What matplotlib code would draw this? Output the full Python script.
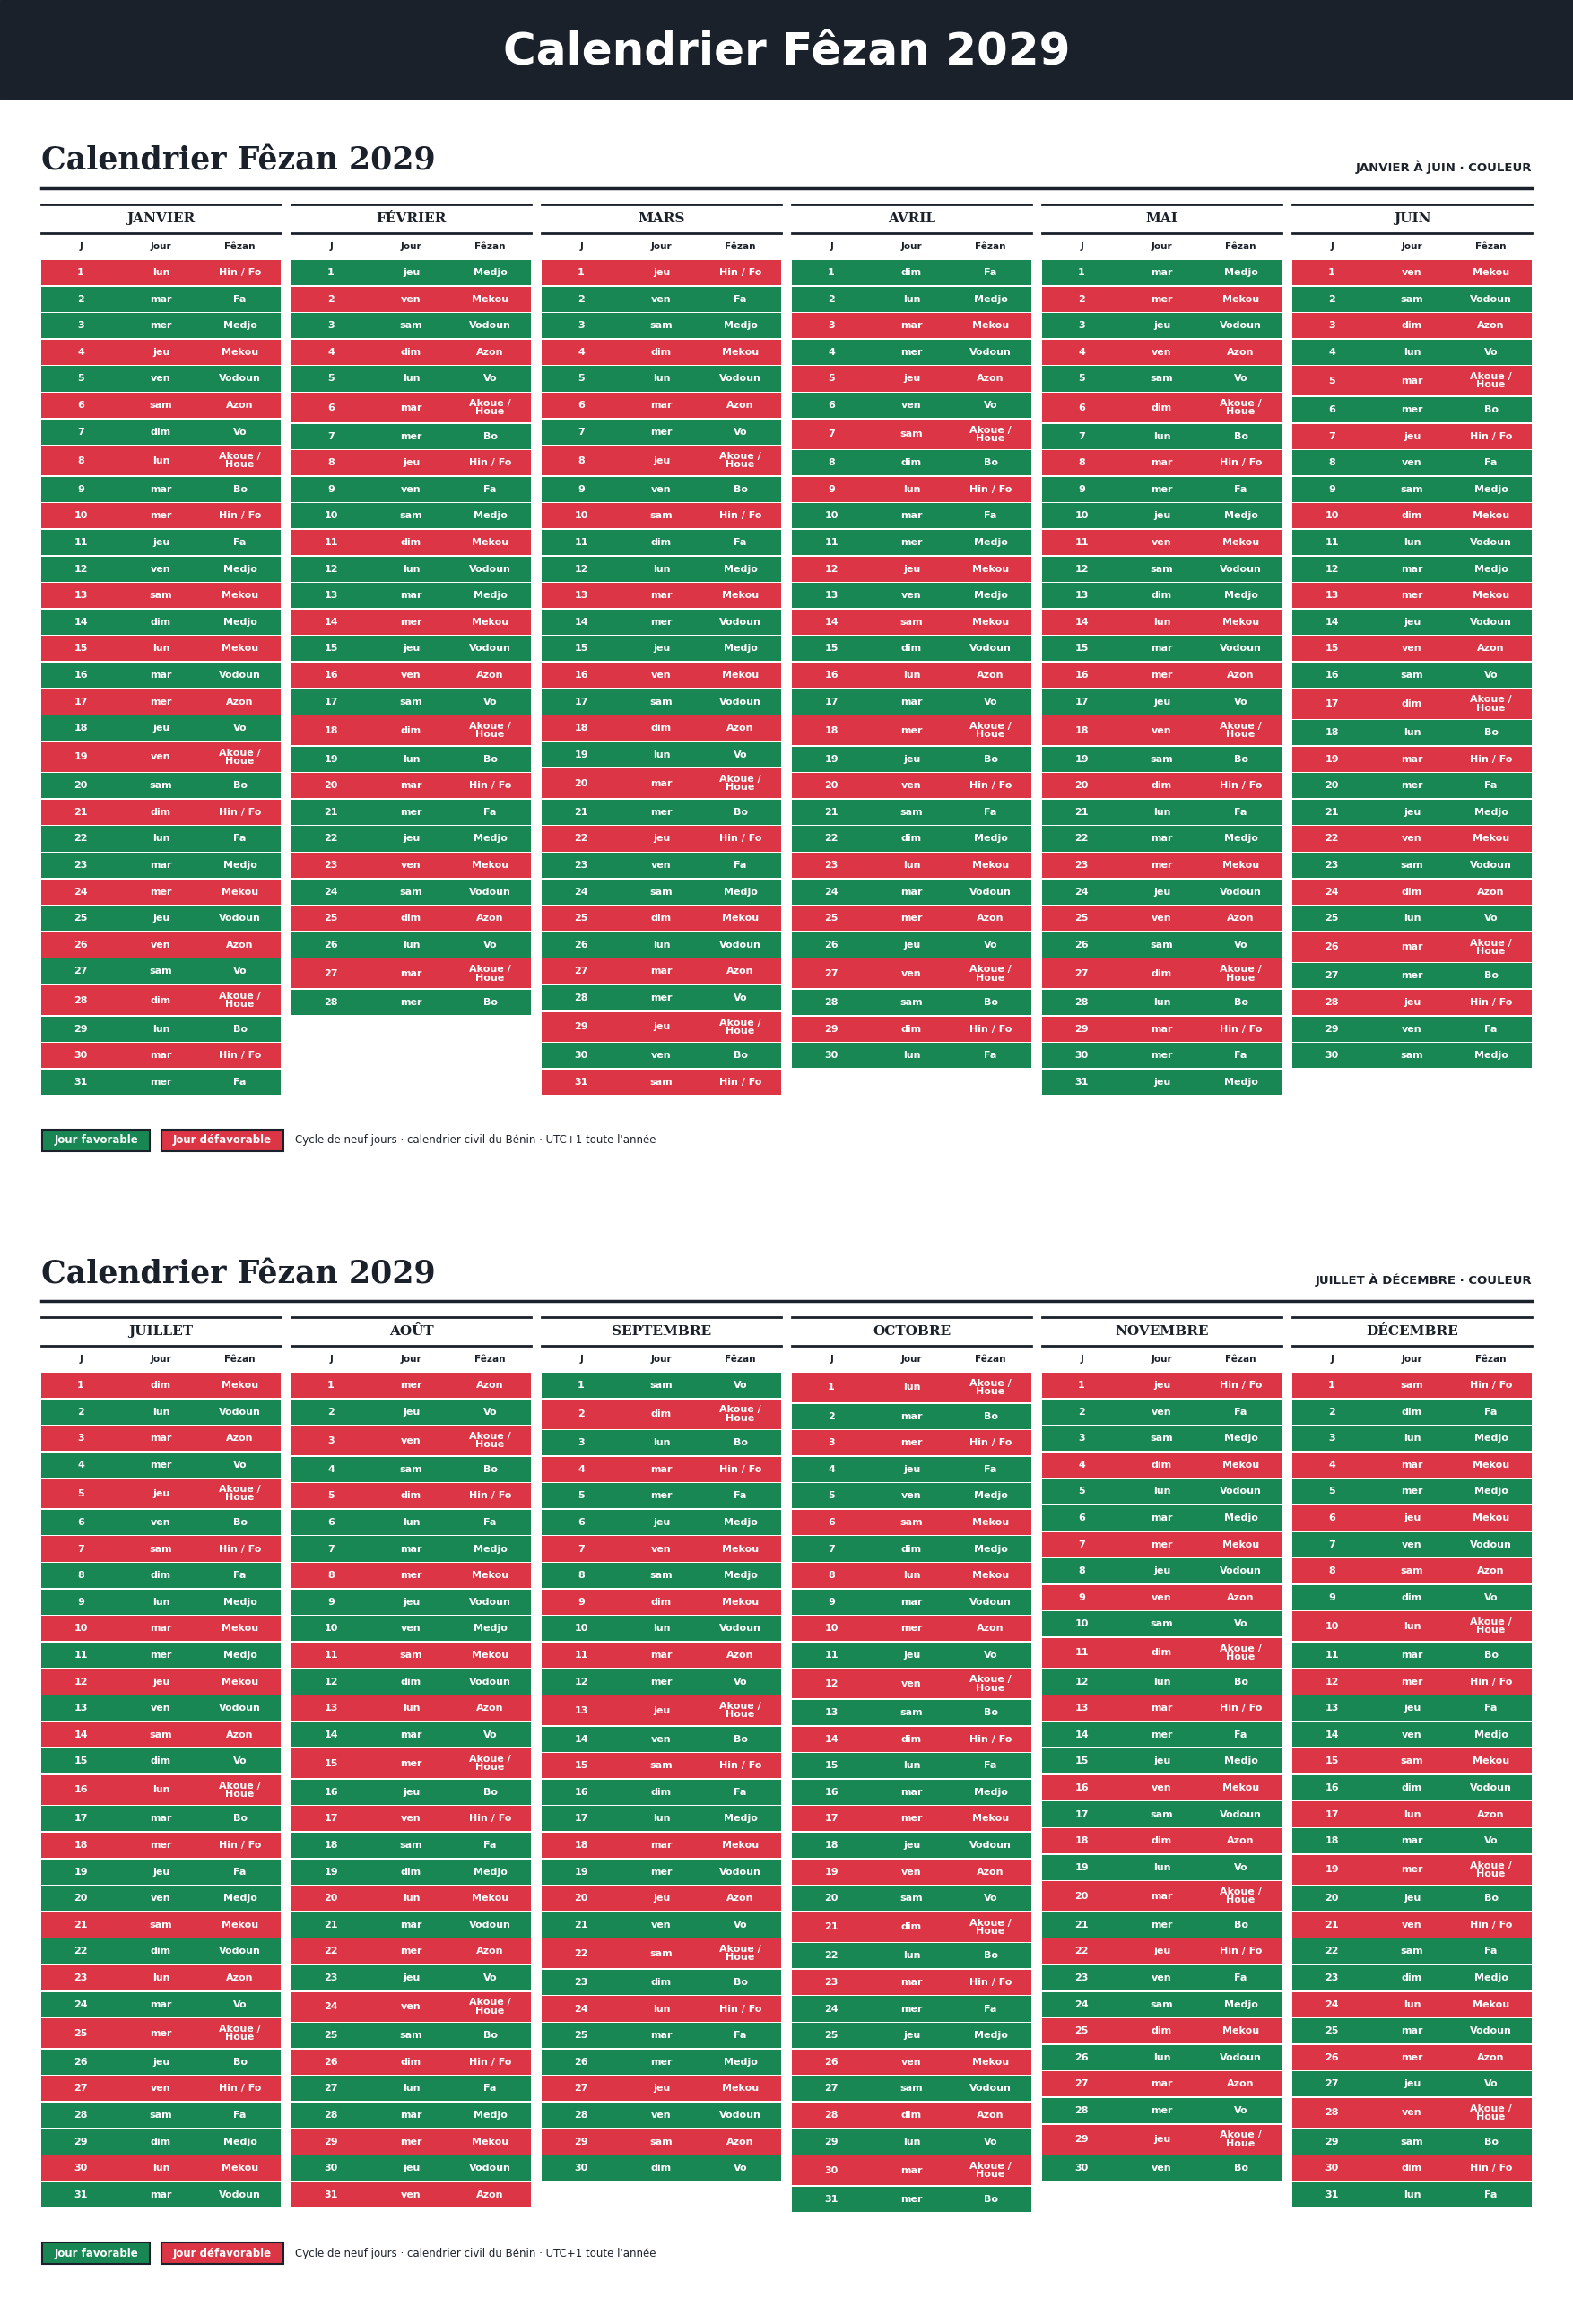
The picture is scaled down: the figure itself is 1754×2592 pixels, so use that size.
import datetime
import matplotlib.pyplot as plt
from matplotlib.patches import Rectangle

# Fêzan day names, month by month
NAMES = {'H': 'Hin / Fo', 'F': 'Fa', 'Me': 'Medjo', 'Mk': 'Mekou', 'Vd': 'Vodoun',
         'A': 'Azon', 'V': 'Vo', 'K': 'Akoue /\nHoue', 'B': 'Bo'}
FAVORABLE = {'F', 'Me', 'Vd', 'V', 'B'}

months = ['JANVIER', 'FÉVRIER', 'MARS', 'AVRIL', 'MAI', 'JUIN',
          'JUILLET', 'AOÛT', 'SEPTEMBRE', 'OCTOBRE', 'NOVEMBRE', 'DÉCEMBRE']
fezan = [
    "H F Me Mk Vd A V K B H F Me Mk Me Mk Vd A V K B H F Me Mk Vd A V K B H F",
    "Me Mk Vd A V K B H F Me Mk Vd Me Mk Vd A V K B H F Me Mk Vd A V K B",
    "H F Me Mk Vd A V K B H F Me Mk Vd Me Mk Vd A V K B H F Me Mk Vd A V K B H",
    "F Me Mk Vd A V K B H F Me Mk Me Mk Vd A V K B H F Me Mk Vd A V K B H F",
    "Me Mk Vd A V K B H F Me Mk Vd Me Mk Vd A V K B H F Me Mk Vd A V K B H F Me",
    "Mk Vd A V K B H F Me Mk Vd Me Mk Vd A V K B H F Me Mk Vd A V K B H F Me",
    "Mk Vd A V K B H F Me Mk Me Mk Vd A V K B H F Me Mk Vd A V K B H F Me Mk Vd",
    "A V K B H F Me Mk Vd Me Mk Vd A V K B H F Me Mk Vd A V K B H F Me Mk Vd A",
    "V K B H F Me Mk Me Mk Vd A V K B H F Me Mk Vd A V K B H F Me Mk Vd A V",
    "K B H F Me Mk Me Mk Vd A V K B H F Me Mk Vd A V K B H F Me Mk Vd A V K B",
    "H F Me Mk Vd Me Mk Vd A V K B H F Me Mk Vd A V K B H F Me Mk Vd A V K B",
    "H F Me Mk Me Mk Vd A V K B H F Me Mk Vd A V K B H F Me Mk Vd A V K B H F",
]
weekdays = ['lun', 'mar', 'mer', 'jeu', 'ven', 'sam', 'dim']
subtitles = ['JANVIER À JUIN · COULEUR', 'JUILLET À DÉCEMBRE · COULEUR']
YEAR = 2029

GREEN = '#198754'
RED = '#dc3545'
DARK = '#1b212b'

W, H = 1754, 2592
fig = plt.figure(figsize=(W / 100, H / 100), dpi=100)
ax = fig.add_axes([0, 0, 1, 1])
ax.set_xlim(0, W)
ax.set_ylim(H, 0)
ax.axis('off')

ax.add_patch(Rectangle((0, 0), W, 110, color=DARK))
ax.text(W / 2, 58, 'Calendrier Fêzan 2029', color='white', fontsize=36,
        fontweight='bold', ha='center', va='center')

left0, colw, step = 46, 267, 279
row_h, tall_h = 29.6, 34.5
sec_off = 1241

for sec in range(2):
    y0 = sec * sec_off
    ax.text(left0, y0 + 180, 'Calendrier Fêzan 2029', family='DejaVu Serif',
            fontweight='bold', fontsize=25, color=DARK, ha='left', va='center')
    ax.text(left0 + 5 * step + colw, y0 + 187, subtitles[sec], fontsize=9.5,
            fontweight='bold', color=DARK, ha='right', va='center')
    ax.plot([left0, left0 + 5 * step + colw], [y0 + 210, y0 + 210], color=DARK, lw=2.5)
    for c in range(6):
        m = sec * 6 + c
        x = left0 + c * step
        ax.plot([x, x + colw], [y0 + 228, y0 + 228], color=DARK, lw=2)
        ax.plot([x, x + colw], [y0 + 260, y0 + 260], color=DARK, lw=2)
        ax.text(x + colw / 2, y0 + 244, months[m], family='DejaVu Serif',
                fontweight='bold', fontsize=11, color=DARK, ha='center', va='center')
        for fx, lab in zip([0.165, 0.5, 0.83], ['J', 'Jour', 'Fêzan']):
            ax.text(x + fx * colw, y0 + 275, lab, fontsize=7.5, fontweight='bold',
                    color=DARK, ha='center', va='center')
        y = y0 + 290
        for d, code in enumerate(fezan[m].split(), start=1):
            h = tall_h if code == 'K' else row_h
            col = GREEN if code in FAVORABLE else RED
            ax.add_patch(Rectangle((x, y), colw, h - 1.5, color=col, lw=0))
            yc = y + (h - 1.5) / 2
            wd = weekdays[datetime.date(YEAR, m + 1, d).weekday()]
            ax.text(x + 0.165 * colw, yc, str(d), fontsize=8, fontweight='bold',
                    color='white', ha='center', va='center')
            ax.text(x + 0.5 * colw, yc, wd, fontsize=8, fontweight='bold',
                    color='white', ha='center', va='center')
            ax.text(x + 0.83 * colw, yc, NAMES[code], fontsize=8, fontweight='bold',
                    color='white', ha='center', va='center', linespacing=0.9)
            y += h
    # legend
    ly = y0 + 1272
    ax.add_patch(Rectangle((47, ly - 12), 120, 24, facecolor=GREEN, edgecolor=DARK, lw=1.5))
    ax.text(107, ly, 'Jour favorable', fontsize=8.5, fontweight='bold', color='white',
            ha='center', va='center')
    ax.add_patch(Rectangle((180, ly - 12), 136, 24, facecolor=RED, edgecolor=DARK, lw=1.5))
    ax.text(248, ly, 'Jour défavorable', fontsize=8.5, fontweight='bold', color='white',
            ha='center', va='center')
    ax.text(329, ly, "Cycle de neuf jours · calendrier civil du Bénin · UTC+1 toute l'année",
            fontsize=8.5, color=DARK, ha='left', va='center')

fig.savefig('out.png', dpi=100, facecolor='white')
